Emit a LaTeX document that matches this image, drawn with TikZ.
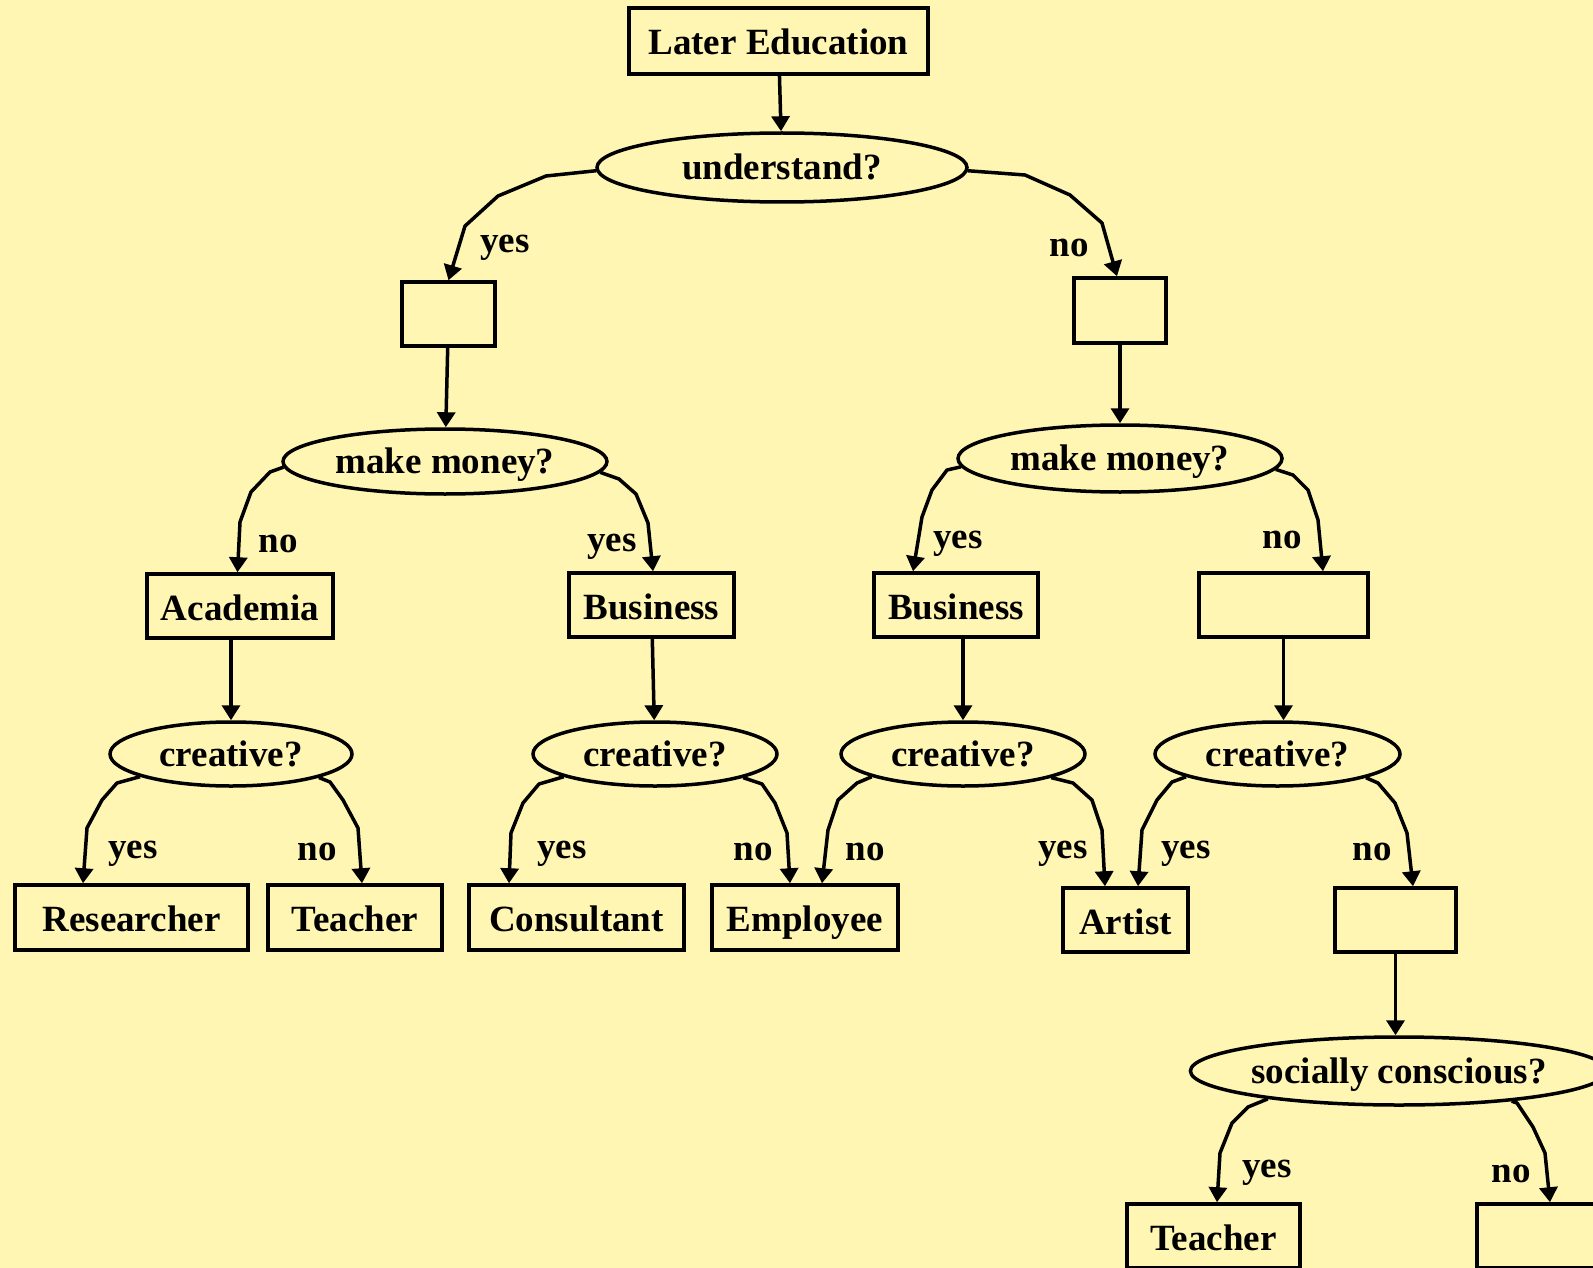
\documentclass[tikz,border=0pt]{standalone}
\usepackage{fontspec}
\setmainfont{Liberation Serif}
\usetikzlibrary{arrows.meta,shapes.geometric}
\definecolor{paper}{RGB}{255,246,179}
\begin{document}
\begin{tikzpicture}[x=1pt,y=-1pt,
  every node/.style={font=\fontsize{37}{44}\selectfont\bfseries, inner sep=0pt, line width=3.5pt},
  box/.style 2 args={draw, rectangle, minimum width=#1pt, minimum height=#2pt,
                     text height=28pt, text depth=0pt},
  qn/.style 2 args={draw, ellipse, minimum width=#1pt, minimum height=#2pt,
                    text height=24pt, text depth=0pt},
  lbl/.style={anchor=base},
  edge/.style={line width=3.5pt, line join=round, -{Triangle[length=15pt,width=18pt]}}]

% canvas
\useasboundingbox (0,0) rectangle (1593,1268);
\clip (0,0) rectangle (1593,1268);
\fill[paper] (0,0) rectangle (1593,1268);

% decision nodes and outcomes
\node[box={299}{66}] (le) at (778.5,41) {Later Education};
\node[qn={370}{69}] (und) at (782,167.5) {understand?};

\node[box={93}{64}] (lb) at (448.5,314) {};
\node[box={92}{65}] (rb) at (1120,310.5) {};

\node[qn={324}{65}] (mml) at (445,461.5) {make money?};
\node[qn={324}{67}] (mmr) at (1120,458.5) {make money?};

\node[box={186}{64}] (acad) at (240,606) {Academia};
\node[box={165}{64}] (busl) at (651.5,605) {Business};
\node[box={164}{64}] (busr) at (956,605) {Business};
\node[box={169}{64}] (er) at (1283.5,605) {};

\node[qn={242}{64}] (cr1) at (231,754) {creative?};
\node[qn={244}{64}] (cr2) at (655,754) {creative?};
\node[qn={244}{64}] (cr3) at (963,754) {creative?};
\node[qn={245}{64}] (cr4) at (1277.5,754) {creative?};

\node[box={233}{65}] (res) at (131.5,917.5) {Researcher};
\node[box={174}{65}] (tea) at (355,917.5) {Teacher};
\node[box={215}{65}] (cons) at (576.5,917.5) {Consultant};
\node[box={186}{65}] (emp) at (805,917.5) {Employee};
\node[box={125}{64}] (art) at (1125.5,920) {Artist};
\node[box={121}{64}] (e3) at (1395.5,920) {};

\node[qn={408}{68}] (soc) at (1399,1071) {socially conscious?};
\node[box={173}{64}] (tea2) at (1213.5,1236) {Teacher};
\node[box={146}{64}] (e4) at (1550,1236) {};

% straight links
\draw[edge] (le) -- (und);
\draw[edge] (lb) -- (mml);
\draw[edge] (rb) -- (mmr);
\draw[edge] (acad.south -| cr1) -- (cr1);
\draw[edge] (busl) -- (cr2);
\draw[edge] (busr.south -| cr3) -- (cr3);
\draw[edge] (er.south) -- (er.south |- cr4.north);
\draw[edge] (e3) -- (e3 |- soc.north);

% branching links
\draw[edge] (und.181) -- (546,176) -- (498,196) -- (465,226) -- (lb.north);
\draw[edge] (und.-1) -- (1025,175) -- (1070,195) -- (1102,223) -- ([xshift=-3pt]rb.north);

\draw[edge] (mml.182) -- (270,472) -- (251,492) -- (240,522) -- ([xshift=-2.5pt]acad.north);
\draw[edge] (mml.-4) -- (619,479) -- (636,494) -- (648,523) -- ([xshift=1.5pt]busl.north);
\draw[edge] (mmr.183) -- (947,470) -- (932,490) -- (922,517) -- ([xshift=-43pt]busr.north);
\draw[edge] (mmr.-4) -- (1293,475) -- (1308,490) -- (1318,520) -- ([xshift=39.5pt]er.north);

\draw[edge] (cr1.194) -- (117,783) -- (102,800) -- (87,828) -- ([xshift=-48.5pt]res.north);
\draw[edge] (cr1.-15) -- (330,782) -- (343,800) -- (358,828) -- ([xshift=7pt]tea.north);
\draw[edge] (cr2.194) -- (539,784) -- (523,803) -- (511,833) -- ([xshift=-67.5pt]cons.north);
\draw[edge] (cr2.-15) -- (762,784) -- (775,803) -- (787,833) -- ([xshift=-15pt]emp.north);
\draw[edge] (cr3.194) -- (857,783) -- (838,800) -- (828,830) -- ([xshift=17pt]emp.north);
\draw[edge] (cr3.-15) -- (1073,783) -- (1092,800) -- (1102,830) -- ([xshift=-20.5pt]art.north);
\draw[edge] (cr4.194) -- (1172,782) -- (1157,800) -- (1142,830) -- ([xshift=12.5pt]art.north);
\draw[edge] (cr4.-15) -- (1378,783) -- (1395,803) -- (1407,833) -- ([xshift=17.5pt]e3.north);

\draw[edge] (soc.192) -- (1248,1107) -- (1232,1123) -- (1220,1153) -- ([xshift=3.5pt]tea2.north);
\draw[edge] (soc.-15) -- (1517,1103) -- (1533,1127) -- (1545,1153) -- (e4.north);

% branch labels
\node[lbl] (t1) at (505,253) {yes};
\node[lbl] (t2) at (1069,257) {no};
\node[lbl] (t3) at (278,552) {no};
\node[lbl] (t4) at (612,551) {yes};
\node[lbl] (t5) at (958,548) {yes};
\node[lbl] (t6) at (1282,548) {no};
\node[lbl] (t7) at (133,858) {yes};
\node[lbl] (t8) at (317,860) {no};
\node[lbl] (t9) at (562,858) {yes};
\node[lbl] (t10) at (753,860) {no};
\node[lbl] (t11) at (865,860) {no};
\node[lbl] (t12) at (1063,858) {yes};
\node[lbl] (t13) at (1186,858) {yes};
\node[lbl] (t14) at (1372,860) {no};
\node[lbl] (t15) at (1267,1177) {yes};
\node[lbl] (t16) at (1511,1182) {no};
\end{tikzpicture}
\end{document}
